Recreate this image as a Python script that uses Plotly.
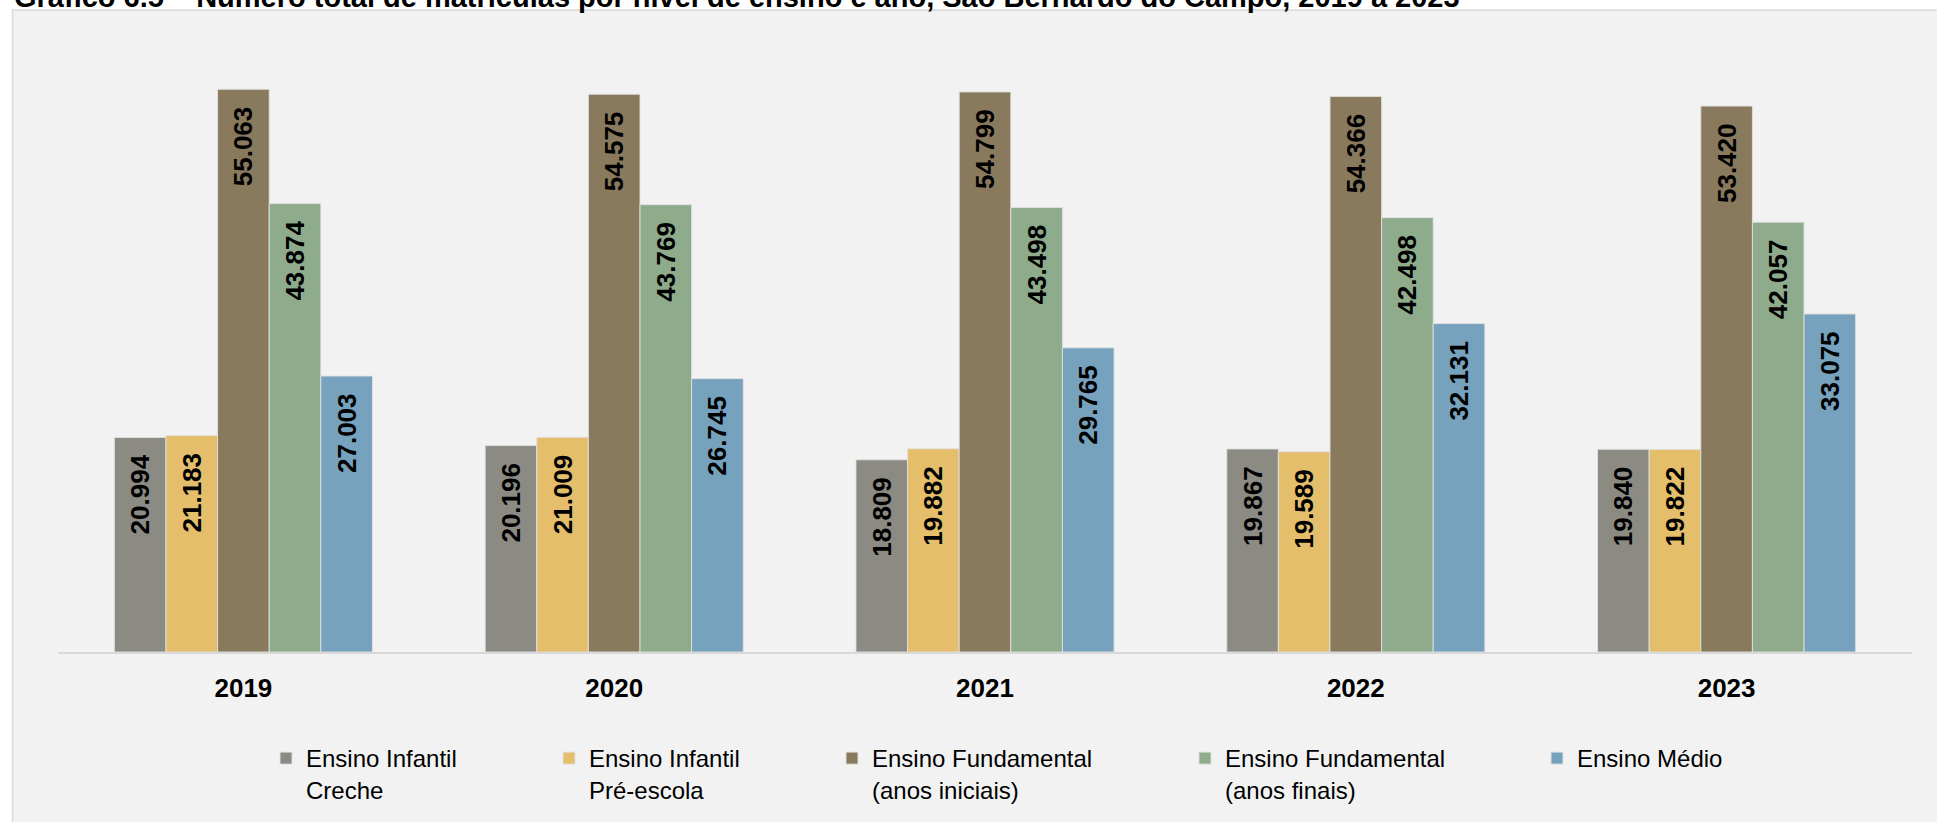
import plotly.graph_objects as go

# ---- data ----
years = ["2019", "2020", "2021", "2022", "2023"]
series_names = [
    "Ensino Infantil<br>Creche",
    "Ensino Infantil<br>Pré-escola",
    "Ensino Fundamental<br>(anos iniciais)",
    "Ensino Fundamental<br>(anos finais)",
    "Ensino Médio",
]
creche = [20994, 20196, 18809, 19867, 19840]
pre_escola = [21183, 21009, 19882, 19589, 19822]
fund_iniciais = [55063, 54575, 54799, 54366, 53420]
fund_finais = [43874, 43769, 43498, 42498, 42057]
medio = [27003, 26745, 29765, 32131, 33075]
series_values = [creche, pre_escola, fund_iniciais, fund_finais, medio]
colors = ["#8B8B83", "#E4BE6A", "#897A5E", "#8EAB8C", "#76A2BD"]

title_text = ("Gráfico 6.5 – Número total de matrículas por nível de ensino e ano, "
              "São Bernardo do Campo, 2019 a 2023")

W, H = 1937, 822
FONT = "Liberation Sans, Arial, sans-serif"

# layout geometry (pixels)
ML, MR, MT, MB = 58, 25, 30, 170
plot_h = H - MT - MB
px_per_unit = 0.01022
ymax = plot_h / px_per_unit
plot_w = W - ML - MR

legend_left_px = [266, 549, 832, 1185, 1537]
legend_top_px = 736

fig = go.Figure()
for i, (name, vals, col) in enumerate(zip(series_names, series_values, colors)):
    lg = "legend" if i == 0 else f"legend{i+1}"
    fig.add_trace(go.Bar(
        x=years, y=vals, name=name,
        marker=dict(color=col, line=dict(color="rgba(225,225,225,0.9)", width=1)),
        texttemplate="%{y:,}\u00a0\u00a0",
        textposition="inside",
        insidetextanchor="end",
        textangle=-90,
        textfont=dict(family=FONT, size=26, color="black", weight="bold"),
        legend=lg,
        showlegend=True,
        hoverinfo="skip",
    ))

legend_common = dict(
    orientation="h", xref="container", yref="container",
    xanchor="left", yanchor="top", valign="top",
    bgcolor="rgba(0,0,0,0)", borderwidth=0,
    font=dict(family=FONT, size=24, color="black"),
    itemwidth=30, visible=True,
)
layout_legends = {}
for i, lx in enumerate(legend_left_px):
    key = "legend" if i == 0 else f"legend{i+1}"
    layout_legends[key] = dict(legend_common, x=lx / W, y=1 - legend_top_px / H)

# panel background
panel_x0 = (12.5 - ML) / plot_w
panel_x1 = (W + 20 - ML) / plot_w
panel_y1 = (H - MB - 10) / plot_h
panel_y0 = (H - MB - (H + 20)) / plot_h

fig.update_layout(
    width=W, height=H,
    margin=dict(l=ML, r=MR, t=MT, b=MB, pad=0),
    paper_bgcolor="white",
    plot_bgcolor="#F2F2F2",
    separators=",.",
    barmode="group",
    bargap=0.304,
    bargroupgap=0,
    showlegend=True,
    font=dict(family=FONT, color="black"),
    title=dict(
        text=title_text, xref="container", yref="container",
        x=14 / W, xanchor="left", y=1 - 7 / H, yanchor="bottom",
        font=dict(family=FONT, size=29, color="black", weight="bold"),
    ),
    xaxis=dict(
        showline=True, linecolor="#D9D9D9", linewidth=2,
        showgrid=False, ticks="", zeroline=False,
        tickfont=dict(family=FONT, size=26, color="black", weight="bold"),
        ticklabelstandoff=12,
    ),
    yaxis=dict(
        range=[0, ymax], visible=False, showgrid=False, zeroline=False,
    ),
    shapes=[dict(
        type="rect", xref="paper", yref="paper",
        x0=panel_x0, x1=panel_x1, y0=panel_y0, y1=panel_y1,
        fillcolor="#F2F2F2", line=dict(color="#D9D9D9", width=1.5),
        layer="below",
    )],
    **layout_legends,
)

fig.write_html(
    "out.html",
    config={"displayModeBar": False},
    post_script="document.body.style.margin='0';document.body.style.overflow='hidden';",
)
